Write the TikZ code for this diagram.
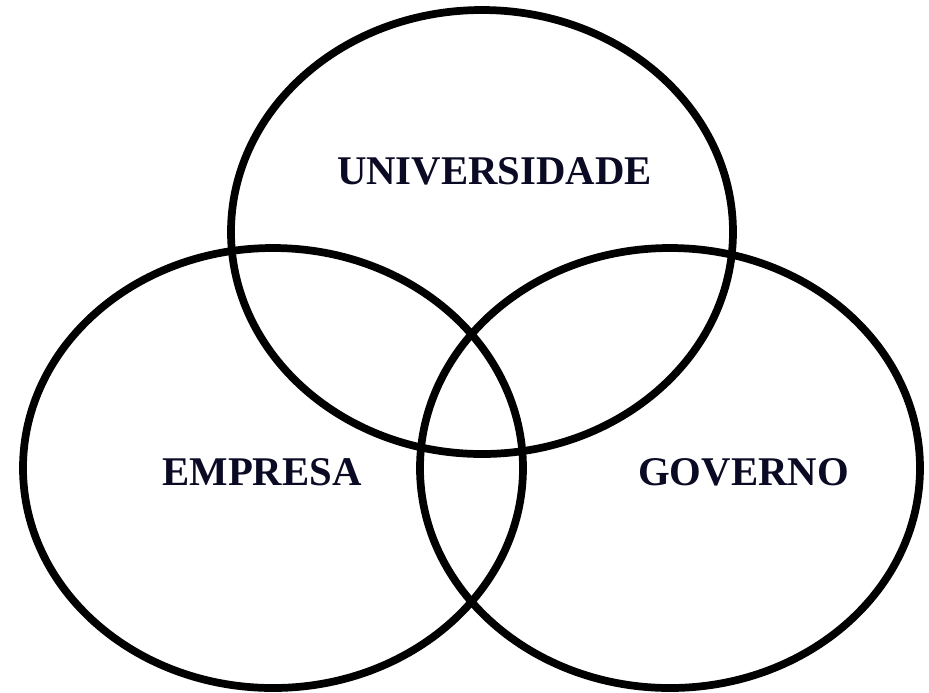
\documentclass[tikz,border=0pt]{standalone}
\usepackage{fontspec}
\setmainfont{Liberation Serif}
\usetikzlibrary{calc}
\definecolor{inkblue}{RGB}{10,10,36}
\tikzset{
	ring/.style={line width=2.2pt, draw=black},
	sector/.style={font=\fontsize{11.6}{14}\selectfont\bfseries, text=inkblue, inner sep=0pt}
}

\begin{document}
\begin{tikzpicture}
			%%%%% START %%%%%
			\useasboundingbox (0, 0) rectangle (9.29, -6.92);
			
			\draw[ring] (4.82, -2.32) ellipse (2.51 and 2.22);
			\draw[ring] (2.73, -4.68) ellipse (2.50 and 2.20);
			\draw[ring] (6.70, -4.68) ellipse (2.50 and 2.20);
			
			\node[sector] (univ) at (4.945, -1.71) {UNIVERSIDADE};
			\node[sector] (empr) at (2.62, -4.72) {EMPRESA};
			\node[sector] (gov) at (7.435, -4.72) {GOVERNO};
			
			%%%%% END %%%%%
\end{tikzpicture}
\end{document}
